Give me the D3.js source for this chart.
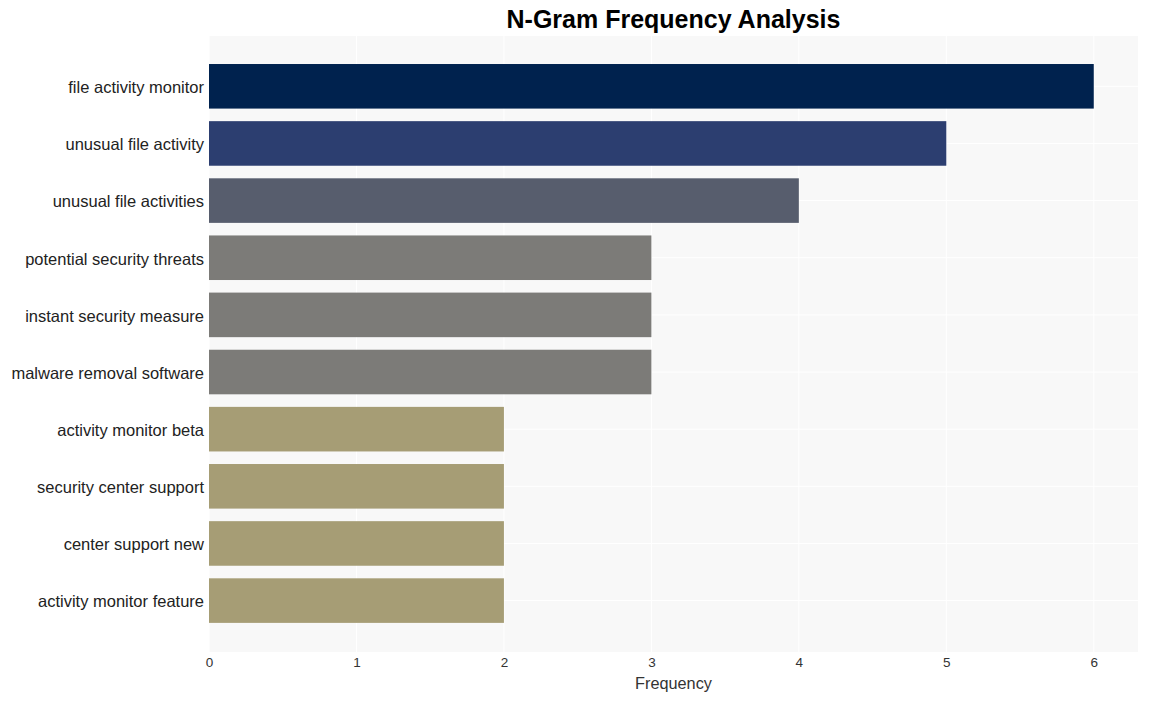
<!DOCTYPE html>
<html><head><meta charset="utf-8">
<script src="https://cdn.jsdelivr.net/npm/d3@7"></script>
<style>body{margin:0;background:#fff;} text{font-family:"Liberation Sans",Arial,sans-serif;}</style>
</head><body>
<svg id="c" width="1149" height="701"></svg>
<script>
const categories = ["file activity monitor","unusual file activity","unusual file activities","potential security threats","instant security measure","malware removal software","activity monitor beta","security center support","center support new","activity monitor feature"];
const values = [6,5,4,3,3,3,2,2,2,2];
const colors = ["#00224e","#2c3e70","#575d6d","#7c7b78","#7c7b78","#7c7b78","#a69d75","#a69d75","#a69d75","#a69d75"];
const xTicks = [0,1,2,3,4,5,6];

const svg = d3.select("#c");
const L=209, R=1138, T=36, B=652;
const x = d3.scaleLinear().domain([0,6.3]).range([L,R]);
const y = d3.scaleBand().domain(categories).range([58.3,628.6]).paddingInner(0.22).paddingOuter(0.1);

svg.append("rect").attr("x",L).attr("y",T).attr("width",R-L).attr("height",B-T).attr("fill","#f8f8f8");
svg.append("g").selectAll("line").data(xTicks).join("line")
  .attr("x1",d=>x(d)).attr("x2",d=>x(d)).attr("y1",T).attr("y2",B)
  .attr("stroke","#fff").attr("stroke-width",1);
svg.append("g").selectAll("line").data(categories).join("line")
  .attr("x1",L).attr("x2",R).attr("y1",d=>y(d)+y.bandwidth()/2).attr("y2",d=>y(d)+y.bandwidth()/2)
  .attr("stroke","#fff").attr("stroke-width",1);

svg.append("g").selectAll("rect").data(categories).join("rect")
  .attr("x",x(0)).attr("y",d=>y(d)).attr("height",y.bandwidth())
  .attr("width",(d,i)=>x(values[i])-x(0)).attr("fill",(d,i)=>colors[i]);

const xa = svg.append("g").attr("transform",`translate(0,${B})`)
  .call(d3.axisBottom(x).tickValues(xTicks).tickFormat(d3.format("d")).tickSize(0).tickPadding(5));
xa.select(".domain").remove();
xa.attr("font-size",13.5);
xa.selectAll("text").attr("font-size",13.5).attr("fill","#333").style("font-family","Liberation Sans, Arial, sans-serif");

const ya = svg.append("g").attr("transform",`translate(${L},0)`)
  .call(d3.axisLeft(y).tickSize(0).tickPadding(5));
ya.select(".domain").remove();
ya.attr("font-size",16.5);
ya.selectAll("text").attr("font-size",16.5).attr("fill","#222").attr("y",1.5).style("font-family","Liberation Sans, Arial, sans-serif");

svg.append("text").attr("x",(L+R)/2).attr("y",689).attr("text-anchor","middle")
  .attr("font-size",16.3).attr("fill","#333").text("Frequency");
svg.append("text").attr("x",(L+R)/2).attr("y",28).attr("text-anchor","middle")
  .attr("font-size",25).attr("font-weight","bold").attr("fill","#000").text("N-Gram Frequency Analysis");
</script>
</body></html>
